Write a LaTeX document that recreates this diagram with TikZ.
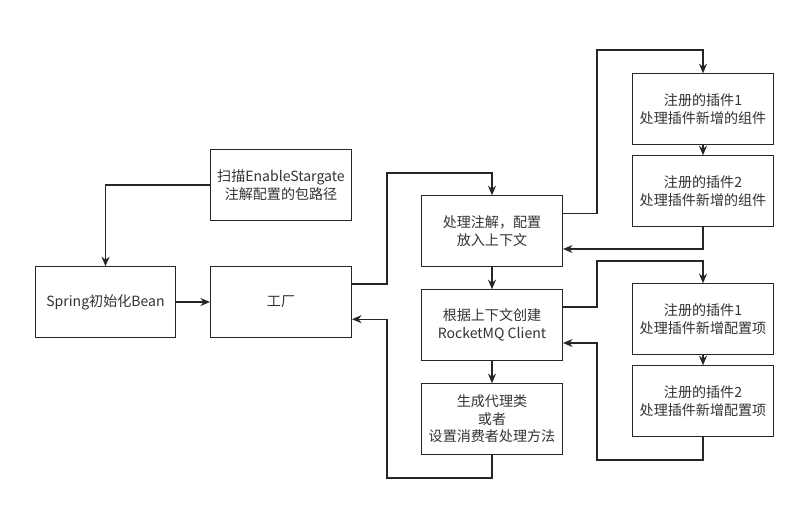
\documentclass[tikz,border=0pt]{standalone}
\usepackage{fontspec}
\setmainfont{Noto Sans CJK SC}
\usepackage{tikz}
\usetikzlibrary{arrows.meta,positioning}

\begin{document}
\begin{tikzpicture}[
  x=0.025cm,
  y=-0.025cm,
  stepbox/.style={draw=black!85, line width=0.8pt, fill=white, minimum width=3.52cm, minimum height=1.76cm, inner sep=2pt, align=center},
  flow/.style={-{Stealth[length=2.4mm, width=2mm]}, line width=0.8pt, draw=black!85},
  every node/.style={font=\fontsize{10}{12.4}\selectfont, text=black!80}
]
\useasboundingbox (0,0) rectangle (804,526);

\node[stepbox] (scan) at (281,185) {扫描EnableStargate\\注解配置的包路径};
\node[stepbox] (spring) at (105.5,302) {Spring初始化Bean};
\node[stepbox] (factory) at (281,302) {工厂};

\node[stepbox] (parse) at (492,231) {处理注解，配置\\放入上下文};
\node[stepbox] (client) at (492,325) {根据上下文创建\\RocketMQ Client};
\node[stepbox] (proxy) at (492,419) {生成代理类\\或者\\设置消费者处理方法};

\node[stepbox] (plugA) at (703,109) {注册的插件1\\处理插件新增的组件};
\node[stepbox] (plugB) at (703,191) {注册的插件2\\处理插件新增的组件};
\node[stepbox] (plugC) at (703,319) {注册的插件1\\处理插件新增配置项};
\node[stepbox] (plugD) at (703,401) {注册的插件2\\处理插件新增配置项};

\coordinate (fup) at (387,173);
\coordinate (fdown) at (387,478);
\coordinate (pup) at (597,50);
\coordinate (cup) at (597,261);
\coordinate (cdown) at (597,460);

\draw[flow] (scan.west) -| (spring.north);
\draw[flow] (spring) -- (factory);
\draw[flow] ([yshift=0.45cm]factory.east) -| (fup) -| (parse.north);
\draw[flow] (parse) -- (client);
\draw[flow] (client) -- (proxy);
\draw[flow] (proxy.south) |- (fdown) |- ([yshift=-0.43cm]factory.east);

\draw[flow] ([yshift=0.43cm]parse.east) -| (pup) -| (plugA.north);
\draw[flow] (plugA) -- (plugB);
\draw[flow] (plugB.south) |- ([yshift=-0.45cm]parse.east);

\draw[flow] ([yshift=0.45cm]client.east) -| (cup) -| (plugC.north);
\draw[flow] (plugC) -- (plugD);
\draw[flow] (plugD.south) |- (cdown) |- ([yshift=-0.45cm]client.east);
\end{tikzpicture}
\end{document}
